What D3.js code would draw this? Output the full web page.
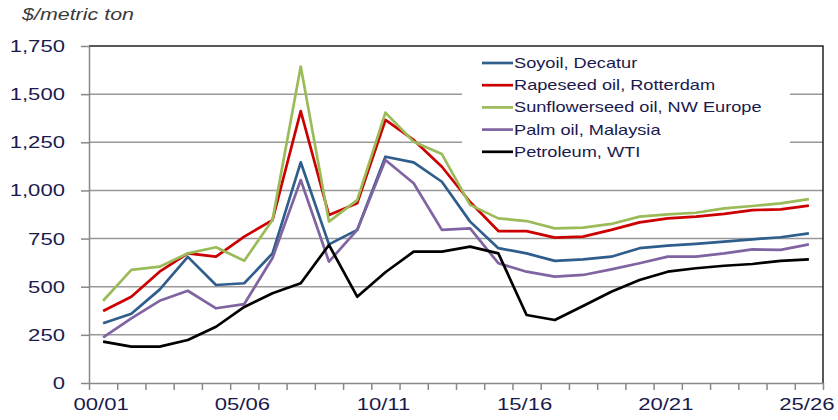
<!DOCTYPE html>
<html>
<head>
<meta charset="utf-8">
<script src="https://cdn.jsdelivr.net/npm/d3@7"></script>
<style>
  body { margin: 0; background: #fff; }
  text { font-family: "Liberation Sans", Arial, sans-serif; }
</style>
</head>
<body>
<svg id="chart" width="838" height="420"></svg>
<script>
// marketing years 00/01 .. 25/26
var years = ["00/01","01/02","02/03","03/04","04/05","05/06","06/07","07/08","08/09","09/10",
             "10/11","11/12","12/13","13/14","14/15","15/16","16/17","17/18","18/19","19/20",
             "20/21","21/22","22/23","23/24","24/25","25/26"];
var xLabels = ["00/01","05/06","10/11","15/16","20/21","25/26"];
var yTicks = [0, 250, 500, 750, 1000, 1250, 1500, 1750];

// $/metric ton
var soyoil    = [310, 360, 485, 655, 509, 518, 673, 1146, 720, 795, 1175, 1146, 1045, 838, 700, 673, 634, 642, 656, 700, 713, 722, 734, 746, 757, 777];
var rapeseed  = [374, 448, 578, 673, 656, 760, 846, 1412, 872, 933, 1366, 1262, 1123, 940, 789, 789, 755, 760, 795, 834, 855, 864, 878, 898, 902, 921];
var sunflower = [427, 587, 604, 673, 705, 635, 846, 1643, 838, 950, 1404, 1253, 1189, 925, 855, 841, 803, 807, 826, 864, 876, 884, 907, 919, 933, 955];
var palm      = [237, 336, 427, 479, 388, 410, 649, 1054, 630, 795, 1158, 1037, 795, 803, 622, 578, 552, 561, 590, 622, 656, 656, 673, 694, 691, 720];
var wti       = [215, 189, 189, 223, 292, 395, 466, 518, 717, 448, 575, 682, 682, 708, 673, 353, 327, 400, 474, 535, 578, 596, 609, 618, 634, 642];

var seriesNames  = ["Soyoil, Decatur", "Rapeseed oil, Rotterdam", "Sunflowerseed oil, NW Europe", "Palm oil, Malaysia", "Petroleum, WTI"];
var seriesColors = ["#2f5d8c", "#cc0000", "#9bbb59", "#8064a2", "#000000"];
var seriesValues = [soyoil, rapeseed, sunflower, palm, wti];

var svg = d3.select("#chart");
var plotLeft = 89, plotRight = 823, plotTop = 46, plotBottom = 383;
var SX = 1.3; // text in the picture is stretched horizontally
var inkColor = "#1a1a4d";

var x = d3.scaleBand().domain(years).range([plotLeft, plotRight]).padding(0);
var xEdge = d3.scaleLinear().domain([0, years.length]).range([plotLeft, plotRight]);
var y = d3.scaleLinear().domain([0, 1750]).range([plotBottom, plotTop]);

svg.append("rect").attr("width", 838).attr("height", 420).attr("fill", "#fff");

// horizontal gridlines
svg.append("g")
    .selectAll("line")
    .data(yTicks.filter(function(d) { return d > 0 && d < 1750; }))
    .join("line")
        .attr("x1", plotLeft).attr("x2", plotRight)
        .attr("y1", function(d) { return y(d); })
        .attr("y2", function(d) { return y(d); })
        .attr("stroke", "#999").attr("stroke-width", 1.5);

// top + right border
svg.append("path")
    .attr("d", "M" + plotLeft + "," + y(1750) + "H" + plotRight + "V" + plotBottom)
    .attr("fill", "none").attr("stroke", "#222").attr("stroke-width", 1.5);

// y axis
var yAxis = svg.append("g")
    .attr("transform", "translate(" + plotLeft + ",0)")
    .call(d3.axisLeft(y).tickValues(yTicks).tickSize(8).tickSizeOuter(0).tickFormat(d3.format(",")));
yAxis.select(".domain").attr("stroke", "#888").attr("stroke-width", 1.5);
yAxis.selectAll(".tick line").attr("stroke", "#888").attr("stroke-width", 1.5);
yAxis.selectAll(".tick text")
    .attr("x", -18.5)
    .attr("transform", "scale(" + SX + ",1)")
    .attr("fill", inkColor)
    .style("font-size", "17px")
    .style("font-family", "Liberation Sans, Arial, sans-serif");

// x axis: ticks on category boundaries
var xTickAxis = svg.append("g")
    .attr("transform", "translate(0," + plotBottom + ")")
    .call(d3.axisBottom(xEdge).tickValues(d3.range(years.length + 1)).tickSize(7).tickSizeOuter(0).tickFormat(""));
xTickAxis.select(".domain").attr("stroke", "#888").attr("stroke-width", 1.5);
xTickAxis.selectAll(".tick line").attr("stroke", "#888").attr("stroke-width", 1.5);

// x labels at category centres
var xLabelAxis = svg.append("g")
    .attr("transform", "translate(0," + plotBottom + ")")
    .call(d3.axisBottom(x).tickValues(xLabels).tickSize(0));
xLabelAxis.select(".domain").remove();
xLabelAxis.selectAll(".tick text")
    .attr("x", -1.5)
    .attr("y", 15)
    .attr("transform", "scale(" + SX + ",1)")
    .attr("fill", inkColor)
    .style("font-size", "17px")
    .style("font-family", "Liberation Sans, Arial, sans-serif");

// legend box (hides gridlines behind it)
var legend = svg.append("g");
legend.append("rect")
    .attr("x", 462).attr("y", 48).attr("width", 328).attr("height", 116)
    .attr("fill", "#fff");

// series lines
var line = d3.line()
    .x(function(d, i) { return x(years[i]) + x.bandwidth() / 2; })
    .y(function(d) { return y(d); });

svg.append("g")
    .selectAll("path")
    .data(seriesValues)
    .join("path")
        .attr("d", line)
        .attr("fill", "none")
        .attr("stroke", function(d, i) { return seriesColors[i]; })
        .attr("stroke-width", 2.7)
        .attr("stroke-linejoin", "round");

// legend entries
seriesNames.forEach(function(name, i) {
    var cy = 63 + i * 22.2;
    legend.append("line")
        .attr("x1", 482).attr("x2", 513)
        .attr("y1", cy).attr("y2", cy)
        .attr("stroke", seriesColors[i]).attr("stroke-width", 2.7);
    legend.append("text")
        .attr("transform", "translate(514," + (cy + 5) + ") scale(" + SX + ",1)")
        .attr("fill", inkColor)
        .style("font-size", "14px")
        .text(name);
});

// unit label
svg.append("text")
    .attr("transform", "translate(22,20) scale(" + SX + ",1)")
    .attr("fill", "#3a3a3a")
    .style("font-size", "16.5px")
    .style("font-style", "italic")
    .text("$/metric ton");
</script>
</body>
</html>
